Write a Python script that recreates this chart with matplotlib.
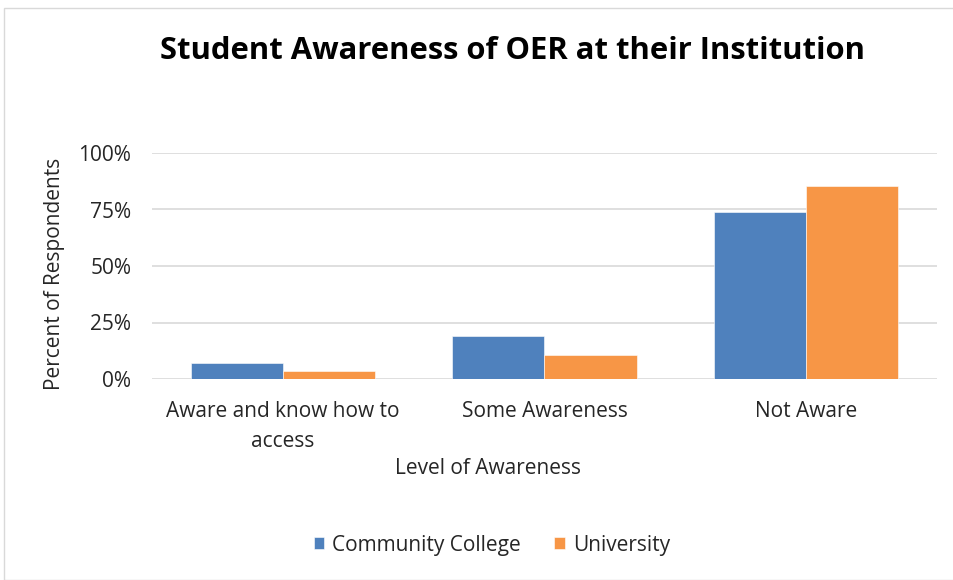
import matplotlib.pyplot as plt
import numpy as np
from matplotlib.patches import Rectangle
from matplotlib.ticker import PercentFormatter

CATEGORIES = ["Aware and know how to\naccess", "Some Awareness", "Not Aware"]
COMMUNITY_COLLEGE = [0.073, 0.189, 0.738]
UNIVERSITY = [0.037, 0.108, 0.855]
SERIES = ["Community College", "University"]
COLORS = ["#4F81BD", "#F79646"]

plt.rcParams["font.family"] = ["Open Sans", "DejaVu Sans"]
TXT = "#262626"
FS = 15

fig = plt.figure(figsize=(9.54, 5.8), dpi=100)
ax = fig.add_axes([152 / 954, 1 - 379 / 580, 785 / 954, 226 / 580])

x = np.arange(len(CATEGORIES))
w = 0.352
for i, (vals, name, color) in enumerate(zip([COMMUNITY_COLLEGE, UNIVERSITY], SERIES, COLORS)):
    ax.bar(x + (i - 0.5) * w, vals, width=w, color=color, label=name,
           edgecolor="white", linewidth=0.4, zorder=3)

ax.set_xlim(-0.5, len(CATEGORIES) - 0.5)
ax.set_ylim(0, 1.0)
ax.set_yticks([0, 0.25, 0.5, 0.75, 1.0])
ax.yaxis.set_major_formatter(PercentFormatter(1.0, decimals=0))
ax.grid(axis="y", color="#D9D9D9", linewidth=1.2, zorder=0)
for s in ax.spines.values():
    s.set_visible(False)
ax.tick_params(axis="both", length=0, labelsize=FS, colors=TXT)
ax.tick_params(axis="y", pad=15)
ax.set_xticks(x)
ax.set_xticklabels(CATEGORIES, linespacing=1.6)
ax.tick_params(axis="x", pad=15.5)

fig.text(488 / 954, 1 - 468 / 580, "Level of Awareness", ha="center", va="center",
         fontsize=FS, color=TXT)
fig.text(55 / 954, 1 - 274 / 580, "Percent of Respondents", ha="center", va="center",
         rotation=90, fontsize=FS, color=TXT)

fig.text(513 / 954, 1 - 51 / 580, "Student Awareness of OER at their Institution",
         ha="center", va="center", fontsize=22.3, fontweight="bold", color="black")

fig.legend(loc="center", bbox_to_anchor=(492 / 954, 1 - 545 / 580), ncol=2,
           frameon=False, fontsize=FS, handlelength=0.5, handleheight=0.5,
           handletextpad=0.4, columnspacing=1.6, labelcolor=TXT)

fig.patches.append(Rectangle((4 / 954, 0), 1.0, 1 - 8 / 580, transform=fig.transFigure,
                             fill=False, edgecolor="#D9D9D9", linewidth=1.0))

fig.savefig("out.png", dpi=100)
